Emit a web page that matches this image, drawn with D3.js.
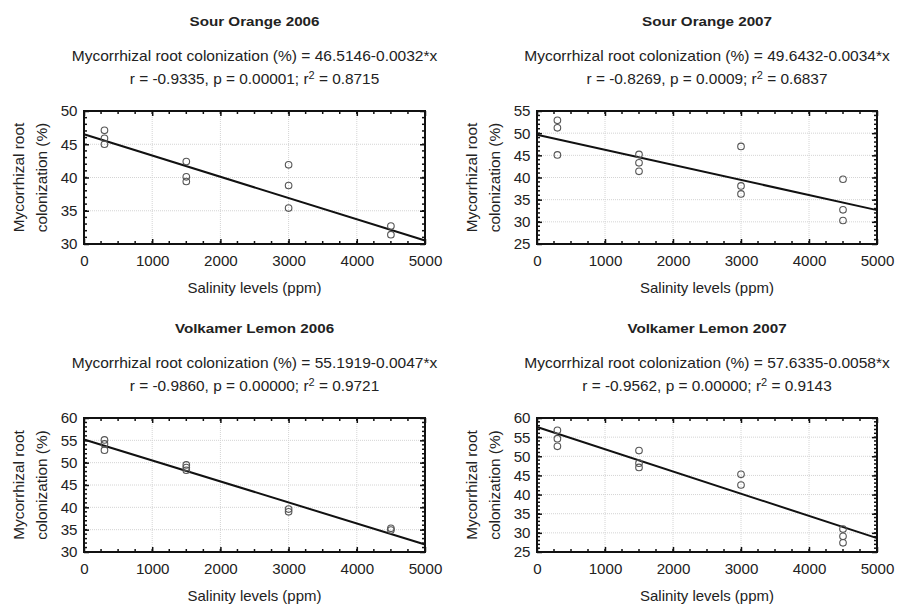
<!DOCTYPE html>
<html>
<head>
<meta charset="utf-8">
<script src="https://cdn.jsdelivr.net/npm/d3@7"></script>
<style>
  body { margin: 0; background: #fff; }
  svg { display: block; }
  text { font-family: "Liberation Sans", Arial, sans-serif; fill: #222; }
</style>
</head>
<body>
<svg id="chart" width="897" height="608"></svg>
<script>
// ---------- data ----------
const panelTitles = ["Sour Orange 2006", "Sour Orange 2007", "Volkamer Lemon 2006", "Volkamer Lemon 2007"];
const equationTexts = [
  "Mycorrhizal root colonization (%) = 46.5146-0.0032*x",
  "Mycorrhizal root colonization (%) = 49.6432-0.0034*x",
  "Mycorrhizal root colonization (%) = 55.1919-0.0047*x",
  "Mycorrhizal root colonization (%) = 57.6335-0.0058*x"
];
const statPrefix = [
  "r = -0.9335, p = 0.00001; r",
  "r = -0.8269, p = 0.0009; r",
  "r = -0.9860, p = 0.00000; r",
  "r = -0.9562, p = 0.00000; r"
];
const statR2 = ["0.8715", "0.6837", "0.9721", "0.9143"];
const intercepts = [46.5146, 49.6432, 55.1919, 57.6335];
const slopes = [-0.0032, -0.0034, -0.0047, -0.0058];
const yDomains = [[30, 50], [25, 55], [30, 60], [25, 60]];
const xDomain = [0, 5000];
const xTickValues = [0, 1000, 2000, 3000, 4000, 5000];

const salinity1 = [300, 300, 300, 1500, 1500, 1500, 3000, 3000, 3000, 4500, 4500];
const colon1    = [47.1, 45.9, 45.0, 42.4, 40.1, 39.4, 41.9, 38.8, 35.4, 32.7, 31.4];
const salinity2 = [300, 300, 300, 1500, 1500, 1500, 3000, 3000, 3000, 4500, 4500, 4500];
const colon2    = [52.9, 51.2, 45.1, 45.2, 43.3, 41.4, 47.0, 38.1, 36.3, 39.6, 32.7, 30.3];
const salinity3 = [300, 300, 300, 1500, 1500, 1500, 3000, 3000, 4500, 4500];
const colon3    = [55.1, 54.2, 52.8, 49.5, 48.9, 48.3, 39.6, 39.0, 35.3, 34.9];
const salinity4 = [300, 300, 300, 1500, 1500, 1500, 3000, 3000, 4500, 4500, 4500];
const colon4    = [56.8, 54.6, 52.6, 51.5, 48.2, 47.1, 45.3, 42.5, 31.0, 29.1, 27.4];

const salinity = [salinity1, salinity2, salinity3, salinity4];
const colon = [colon1, colon2, colon3, colon4];

const xLabel = "Salinity levels (ppm)";
const yLabel1 = "Mycorrhizal root";
const yLabel2 = "colonization (%)";

// ---------- layout ----------
const boxes = [
  {x0: 84, x1: 425, y0: 111, y1: 244},
  {x0: 537, x1: 877, y0: 111, y1: 244},
  {x0: 84, x1: 425, y0: 418, y1: 552},
  {x0: 537, x1: 877, y0: 418, y1: 552}
];

const svg = d3.select("#chart");

// horizontal stretch of a text around an anchor point (x,y), optional rotation
function stretch(sel, x, y, f, rot) {
  const r = rot ? ` rotate(${rot})` : "";
  sel.attr("x", 0).attr("y", 0).attr("transform", `translate(${x},${y})${r} scale(${f},1)`);
}

boxes.forEach((b, i) => {
  const g = svg.append("g");
  const x = d3.scaleLinear().domain(xDomain).range([b.x0, b.x1]);
  const y = d3.scaleLinear().domain(yDomains[i]).range([b.y1, b.y0]);
  const cx = (b.x0 + b.x1) / 2;
  const cy = (b.y0 + b.y1) / 2;
  const yMajor = d3.range(yDomains[i][0], yDomains[i][1] + 0.1, 5);
  const yMinor = d3.range(yDomains[i][0], yDomains[i][1] + 0.1, 1);
  const xMinor = d3.range(0, 5001, 250);

  // grid
  g.append("g").selectAll("line").data(xTickValues.slice(1, -1)).join("line")
    .attr("x1", d => x(d)).attr("x2", d => x(d)).attr("y1", b.y0).attr("y2", b.y1)
    .attr("stroke", "#d4d4d4").attr("stroke-width", 1).attr("stroke-dasharray", "1,1");
  g.append("g").selectAll("line").data(yMajor.slice(1, -1)).join("line")
    .attr("y1", d => y(d)).attr("y2", d => y(d)).attr("x1", b.x0).attr("x2", b.x1)
    .attr("stroke", "#d4d4d4").attr("stroke-width", 1).attr("stroke-dasharray", "1,1");

  // minor ticks (inward) on all sides
  const minorX = (sel, yy, dir) => sel.append("g").selectAll("line").data(xMinor).join("line")
    .attr("x1", d => x(d)).attr("x2", d => x(d)).attr("y1", yy).attr("y2", yy + dir * 3)
    .attr("stroke", "#111").attr("stroke-width", 1.5);
  minorX(g, b.y1, -1); minorX(g, b.y0, 1);
  const minorY = (sel, xx, dir) => sel.append("g").selectAll("line").data(yMinor).join("line")
    .attr("y1", d => y(d)).attr("y2", d => y(d)).attr("x1", xx).attr("x2", xx + dir * 3)
    .attr("stroke", "#111").attr("stroke-width", 1.5);
  minorY(g, b.x0, 1); minorY(g, b.x1, -1);

  // axes
  const xAxis = g.append("g").attr("transform", `translate(0,${b.y1})`)
    .call(d3.axisBottom(x).tickValues(xTickValues).tickSize(-5).tickPadding(12).tickFormat(d3.format("d")));
  const yAxis = g.append("g").attr("transform", `translate(${b.x0},0)`)
    .call(d3.axisLeft(y).tickValues(yMajor).tickSize(-5).tickPadding(8).tickFormat(d3.format("d")));
  g.append("g").attr("transform", `translate(0,${b.y0})`)
    .call(d3.axisTop(x).tickValues(xTickValues).tickSize(-5).tickFormat(""));
  g.append("g").attr("transform", `translate(${b.x1},0)`)
    .call(d3.axisRight(y).tickValues(yMajor).tickSize(-5).tickFormat(""));
  g.selectAll(".domain").remove();
  g.selectAll(".tick line").attr("stroke", "#111").attr("stroke-width", 1.5);
  [xAxis, yAxis].forEach(a => a.selectAll(".tick text")
    .style("font-family", '"Liberation Sans", Arial, sans-serif').style("font-size", "14px").attr("fill", "#222"));
  xAxis.selectAll(".tick text").attr("transform", "scale(1.08,1)");
  yAxis.selectAll(".tick text").attr("dy", "0.35em").attr("x", -6).attr("transform", "scale(1.08,1)");

  // regression line
  g.append("path")
    .datum(xDomain)
    .attr("d", d3.line().x(d => x(d)).y(d => y(intercepts[i] + slopes[i] * d)))
    .attr("fill", "none").attr("stroke", "#111").attr("stroke-width", 2);

  // points
  g.append("g").selectAll("circle").data(salinity[i].map((s, k) => [s, colon[i][k]])).join("circle")
    .attr("cx", d => x(d[0])).attr("cy", d => y(d[1])).attr("r", 3.3)
    .attr("fill", "none").attr("stroke", "#555").attr("stroke-width", 1.1);

  // frame
  g.append("rect").attr("x", b.x0).attr("y", b.y0).attr("width", b.x1 - b.x0).attr("height", b.y1 - b.y0)
    .attr("fill", "none").attr("stroke", "#111").attr("stroke-width", 2);

  // titles
  const t = g.append("text").attr("dy", "0.35em").attr("text-anchor", "middle")
    .style("font-size", "13px").style("font-weight", "bold").text(panelTitles[i]);
  stretch(t, cx, b.y0 - 90, 1.17);
  const eq = g.append("text").attr("dy", "0.35em").attr("text-anchor", "middle")
    .style("font-size", "14px").text(equationTexts[i]);
  stretch(eq, cx, b.y0 - 55, 1.11);
  const st = g.append("text").attr("dy", "0.35em").attr("text-anchor", "middle")
    .style("font-size", "14px");
  st.append("tspan").text(statPrefix[i]);
  st.append("tspan").attr("dy", "-5").style("font-size", "10px").text("2");
  st.append("tspan").attr("dy", "5").text(" = " + statR2[i]);
  stretch(st, cx, b.y0 - 32, 1.1);

  // axis labels
  const xl = g.append("text").attr("dy", "0.35em").attr("text-anchor", "middle")
    .style("font-size", "14px").text(xLabel);
  stretch(xl, cx, b.y1 + 44, 1.07);
  const yl1 = g.append("text").attr("dy", "0.35em")
    .attr("text-anchor", "middle").style("font-size", "14px").text(yLabel1);
  stretch(yl1, b.x0 - 65, cy, 1.1, -90);
  const yl2 = g.append("text").attr("dy", "0.35em")
    .attr("text-anchor", "middle").style("font-size", "14px").text(yLabel2);
  stretch(yl2, b.x0 - 42, cy, 1.1, -90);
});
</script>
</body>
</html>
